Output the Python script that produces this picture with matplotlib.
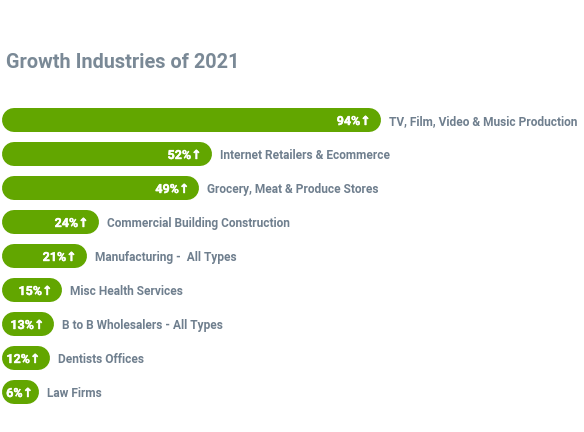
import matplotlib
matplotlib.use("Agg")
import matplotlib.pyplot as plt
import matplotlib.patheffects as pe

categories = [
    "TV, Film, Video & Music Production",
    "Internet Retailers & Ecommerce",
    "Grocery, Meat & Produce Stores",
    "Commercial Building Construction",
    "Manufacturing -  All Types",
    "Misc Health Services",
    "B to B Wholesalers - All Types",
    "Dentists Offices",
    "Law Firms",
]
values = [94, 52, 49, 24, 21, 15, 13, 12, 6]
title = "Growth Industries of 2021"

GREEN = "#62a600"
GRAY = "#6f7f8e"
TITLE_GRAY = "#7a8996"
FONT = ["Roboto", "DejaVu Sans"]

W, H = 584, 432
PX = 4.03          # pixels per percent
LEFT = 2           # left pixel offset of bars
ROW0, ROWH = 120, 34
BAR_H = 24         # bar thickness in px
MIN_LEN = 9.2      # minimal drawn length (percent units) so label fits
FS = 8.6

fig = plt.figure(figsize=(W / 100, H / 100), dpi=100)
ax = fig.add_axes([0, 0, 1, 1])
ax.set_xlim(-LEFT / PX, (W - LEFT) / PX)
ax.set_ylim((H - ROW0) / ROWH, -ROW0 / ROWH)
ax.axis("off")

r = (BAR_H / 2) / PX
lw_pt = BAR_H * 72 / 100
for i, (cat, v) in enumerate(zip(categories, values)):
    length = max(v, MIN_LEN)
    lc = ax.hlines(i, r, length - r, colors=GREEN, linewidth=lw_pt)
    lc.set_capstyle("round")
    pad = 10 if v >= MIN_LEN else 6
    ax.annotate(f"{v}%↑", (length, i), xytext=(-pad * 0.72, 0), textcoords="offset points",
                ha="right", va="center_baseline", color="white", fontsize=9,
                fontweight="bold", family=FONT,
                path_effects=[pe.withStroke(linewidth=0.3, foreground="white")])
    ax.annotate(cat, (length, i), xytext=(8 * 0.72, 0), textcoords="offset points",
                ha="left", va="center_baseline", color=GRAY, fontsize=FS,
                fontweight="bold", family=FONT)

fig.text(6 / W, 1 - 61 / H, title, ha="left", va="center_baseline",
         color=TITLE_GRAY, fontsize=14.3, fontweight="bold", family=FONT)

fig.savefig("out.png", dpi=100)
